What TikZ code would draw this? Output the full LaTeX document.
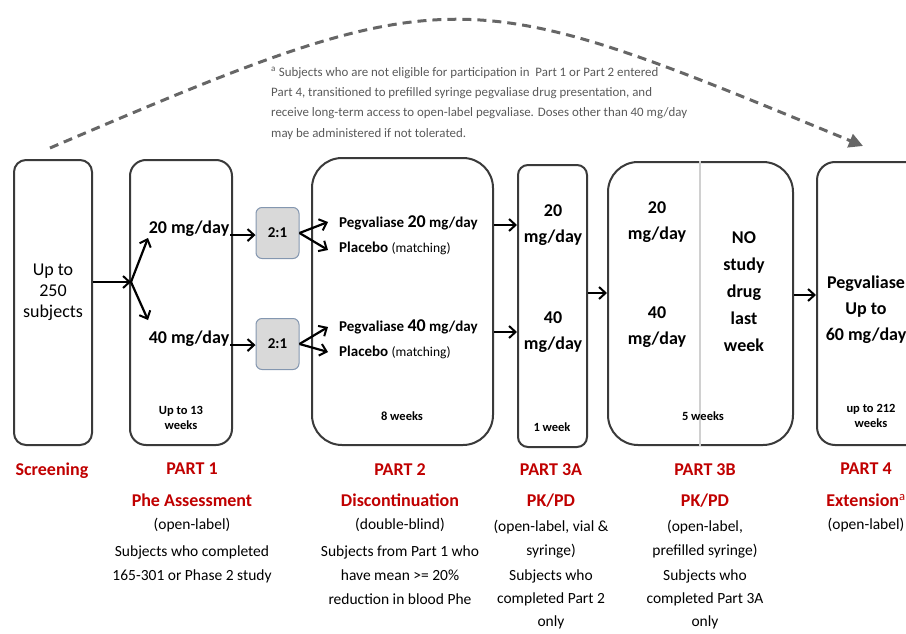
\documentclass[tikz,border=0pt]{standalone}
\usepackage{fontspec}
\setmainfont{Carlito}
\usetikzlibrary{arrows.meta}
\definecolor{boxline}{HTML}{3A3A3A}
\definecolor{partred}{HTML}{C00000}
\definecolor{notegrey}{HTML}{595959}
\definecolor{arcgrey}{HTML}{666666}
\definecolor{ratiofill}{HTML}{D9D9D9}
\definecolor{ratioline}{HTML}{8497B0}
\definecolor{divgrey}{HTML}{D0D0D0}
\newcommand\fsz[2]{\fontsize{#1}{#2}\selectfont}
\begin{document}
\begin{tikzpicture}[x=1pt,y=-1pt,
  box/.style={draw=boxline, line width=2pt, fill=white, inner sep=0pt},
  ratio/.style={draw=ratioline, line width=1pt, fill=ratiofill, rounded corners=6pt,
    minimum width=43pt, minimum height=51pt, inner sep=0pt, font=\fsz{15}{17}\bfseries},
  txt/.style={inner sep=0pt, align=center, anchor=north},
  big/.style={txt, font=\fsz{18}{21}},
  bigb/.style={txt, font=\fsz{18}{26}\bfseries},
  small/.style={txt, font=\fsz{12.5}{15}\bfseries},
  arm/.style={inner sep=0pt, anchor=north west, font=\fsz{15}{18}\bfseries},
  head/.style={txt, font=\fsz{18}{21}\bfseries, text=partred},
  sub/.style={txt, font=\fsz{15.5}{24}},
  arr/.style={-{Straight Barb[length=6.5pt,width=12pt,line width=2pt]}, line width=2.2pt},
]
\useasboundingbox (0,0) rectangle (906,634);

% dashed arc to Part 4
\coordinate (arcS) at (50,148);
\coordinate (arcE) at (863,146);
\draw[arcgrey, line width=3pt, dash pattern=on 9pt off 6pt,
  -{Triangle[length=14pt,width=14pt]}] (arcS) .. controls (455,-25) and (460,-20) .. (arcE);

\node[inner sep=0pt, anchor=north west, align=left, text=notegrey, font=\fsz{12.9}{20.3}] (note) at (271,67)
 {\textsuperscript{a} Subjects who are not eligible for participation in\ \ Part 1 or Part 2 entered\\
  Part 4, transitioned to prefilled syringe pegvaliase drug presentation, and\\
  receive long-term access to open-label pegvaliase. Doses other than 40 mg/day\\
  may be administered if not tolerated.};

% boxes
\node[box, rounded corners=12pt, minimum width=78pt, minimum height=285pt] (scr) at (53,302.5) {};
\node[box, rounded corners=16pt, minimum width=102pt, minimum height=285pt] (p1) at (181,302.5) {};
\node[box, rounded corners=30pt, minimum width=181pt, minimum height=287pt] (p2) at (402.5,301.5) {};
\node[box, rounded corners=10pt, minimum width=69pt, minimum height=282pt] (p3a) at (552.5,306) {};
\node[box, rounded corners=30pt, minimum width=185pt, minimum height=283pt] (p3b) at (700.5,303.5) {};
\node[box, rounded corners=18pt, minimum width=113pt, minimum height=283pt] (p4) at (873.5,303.5) {};
\draw[divgrey, line width=1.5pt] (p3b.north -| 700,0) coordinate (divT) -- (p3b.south -| 700,0) coordinate (divB);

\node[ratio] (r1) at (277.5,233) {2:1};
\node[ratio] (r2) at (277.5,344) {2:1};

% box texts
\node[big] (scrt) at (53,264) {Up to\\250\\subjects};
\node[txt, font=\fsz{18}{21}\bfseries] (d20) at (189,221) {20 mg/day};
\node[txt, font=\fsz{18}{21}\bfseries] (d40) at (189,331) {40 mg/day};
\node[small] (w1) at (181,406) {Up to 13\\weeks};

\node[arm] (pg20) at (339,215) {Pegvaliase {\fsz{18}{21}20} mg/day};
\node[arm] (pl20) at (339,242) {Placebo {\mdseries\fsz{13.5}{16}(matching)}};
\node[arm] (pg40) at (339,319) {Pegvaliase {\fsz{18}{21}40} mg/day};
\node[arm] (pl40) at (339,346) {Placebo {\mdseries\fsz{13.5}{16}(matching)}};
\node[small] (w2) at (402,412) {8 weeks};

\node[bigb] (a20) at (553,204) {20\\mg/day};
\node[bigb] (a40) at (553,311) {40\\mg/day};
\node[small] (w3a) at (552,423) {1 week};

\node[bigb] (b20) at (657,201) {20\\mg/day};
\node[bigb] (b40) at (657,306) {40\\mg/day};
\node[txt, font=\fsz{18}{27}\bfseries] (nod) at (744,231) {NO\\study\\drug\\last\\week};
\node[small] (w3b) at (703,412) {5 weeks};

\node[bigb] (p4t) at (866,276) {Pegvaliase\\Up to\\60 mg/day};
\node[small] (w4) at (871,404) {up to 212\\weeks};

% connectors
\coordinate (split) at (131,282);
\coordinate (tip20) at (148,238);
\coordinate (tip40) at (148,320);
\draw[arr] (scr.east |- split) -- (split);
\draw[arr] (split) -- (tip20);
\draw[arr] (split) -- (tip40);
\draw[arr] (d20.east) ++(1,6) coordinate (d20e) -- (d20e -| r1.west);
\draw[arr] (d40.east) ++(1,6) coordinate (d40e) -- (d40e -| r2.west);
\coordinate (fan20a) at (328,222);
\coordinate (fan20b) at (328,250);
\coordinate (fan40a) at (328,327);
\coordinate (fan40b) at (328,352);
\draw[arr] (r1.east) -- (fan20a);
\draw[arr] (r1.east) -- (fan20b);
\draw[arr] (r2.east) -- (fan40a);
\draw[arr] (r2.east) -- (fan40b);
\coordinate (lvl20) at (500,225);
\coordinate (lvl40) at (500,332);
\draw[arr] (p2.east |- lvl20) -- (p3a.west |- lvl20);
\draw[arr] (p2.east |- lvl40) -- (p3a.west |- lvl40);
\coordinate (lvl3) at (598,293);
\coordinate (lvl4) at (805,295);
\draw[arr] (p3a.east |- lvl3) -- (p3b.west |- lvl3);
\draw[arr] (p3b.east |- lvl4) -- (p4.west |- lvl4);

% bottom labels
\node[head] (hs) at (52,463) {Screening};

\node[head] (h1) at (192,463) {PART 1};
\node[head] (h1b) at (192,494) {Phe Assessment};
\node[sub] (h1c) at (192,518) {(open-label)};
\node[sub] (h1d) at (192,546) {Subjects who completed\\165-301 or Phase 2 study};

\node[head] (h2) at (400,463) {PART 2};
\node[head] (h2b) at (400,494) {Discontinuation};
\node[sub] (h2c) at (400,518) {(double-blind)};
\node[sub] (h2d) at (400,546) {Subjects from Part 1 who\\have mean >= 20\%\\reduction in blood Phe};

\node[head] (h3) at (551,463) {PART 3A};
\node[head] (h3b) at (551,494) {PK/PD};
\node[sub] (h3c) at (551,520) {(open-label, vial \&\\syringe)};
\node[sub, font=\fsz{15.5}{23}] (h3d) at (551,570) {Subjects who\\completed Part 2\\only};

\node[head] (h3x) at (705,463) {PART 3B};
\node[head] (h3xb) at (705,494) {PK/PD};
\node[sub] (h3xc) at (705,520) {(open-label,\\prefilled syringe)};
\node[sub, font=\fsz{15.5}{23}] (h3xd) at (705,570) {Subjects who\\completed Part 3A\\only};

\node[head] (h4) at (866,463) {PART 4};
\node[head] (h4b) at (866,494) {Extension{\mdseries\textsuperscript{a}}};
\node[sub] (h4c) at (866,518) {(open-label)};
\end{tikzpicture}
\end{document}
